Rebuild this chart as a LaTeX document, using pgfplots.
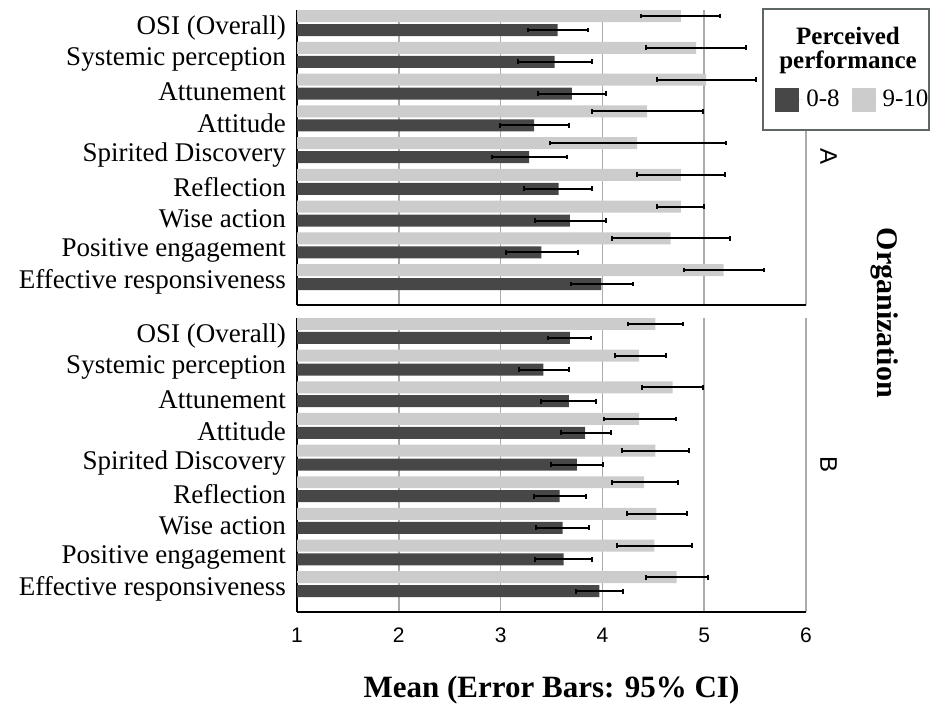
\documentclass[border=0pt]{standalone}
\usepackage{pgfplots}
\pgfplotsset{compat=1.18}
\usepackage{pgfplotstable}
\usepackage{fontspec}
\setmainfont{Liberation Serif}
\newfontfamily\arialfont{Liberation Sans}
\definecolor{cdark}{HTML}{474747}
\definecolor{clight}{HTML}{CCCCCC}
\definecolor{cgrid}{HTML}{ABABAB}
\definecolor{cframe}{HTML}{5E6666}

% Organization A, perceived performance 0-8 (y = row + 0.22)
\pgfplotstableread{
y m lo hi
1.22 3.56 3.27 3.86
2.22 3.53 3.17 3.90
3.22 3.70 3.37 4.04
4.22 3.33 2.99 3.67
5.22 3.28 2.92 3.65
6.22 3.57 3.23 3.90
7.22 3.68 3.34 4.04
8.22 3.40 3.05 3.76
9.22 3.99 3.69 4.30
}\tabAdark
% Organization A, 9-10 (y = row - 0.22)
\pgfplotstableread{
y m lo hi
0.78 4.77 4.38 5.16
1.78 4.92 4.43 5.41
2.78 5.02 4.54 5.51
3.78 4.44 3.90 4.99
4.78 4.34 3.49 5.21
5.78 4.77 4.34 5.20
6.78 4.77 4.54 5.00
7.78 4.67 4.09 5.25
8.78 5.19 4.80 5.59
}\tabAlight
% Organization B, 0-8
\pgfplotstableread{
y m lo hi
1.22 3.68 3.47 3.89
2.22 3.42 3.18 3.67
3.22 3.67 3.40 3.94
4.22 3.83 3.59 4.08
5.22 3.75 3.50 4.01
6.22 3.58 3.33 3.84
7.22 3.61 3.35 3.87
8.22 3.62 3.34 3.90
9.22 3.97 3.74 4.20
}\tabBdark
% Organization B, 9-10
\pgfplotstableread{
y m lo hi
0.78 4.52 4.25 4.79
1.78 4.36 4.12 4.62
2.78 4.69 4.39 4.99
3.78 4.36 4.02 4.72
4.78 4.52 4.19 4.85
5.78 4.41 4.09 4.74
6.78 4.53 4.24 4.83
7.78 4.51 4.14 4.88
8.78 4.73 4.43 5.04
}\tabBlight

\pgfplotsset{
  panel/.style={
    scale only axis, width=254.5pt,
    xmin=1, xmax=6, ymin=0.59, ymax=9.88, y dir=reverse,
    xtick={1,2,3,4,5,6}, ytick={1,2,3,4,5,6,7,8,9},
    yticklabels={OSI (Overall),Systemic perception,Attunement,Attitude,Spirited Discovery,Reflection,Wise action,Positive engagement,Effective responsiveness},
    xmajorgrids, grid style={cgrid, line width=0.8pt},
    axis x line*=bottom, axis y line*=left,
    axis line style={black, line width=1pt, -},
    major tick length=0pt,
    y tick label style={font=\fontsize{13.5}{15}\selectfont, xshift=-2pt, yshift=-2.5pt},
    x tick label style={font=\arialfont\fontsize{10.5}{12}\selectfont, yshift=-4.5pt},
    /pgf/number format/assume math mode=true,
  },
  barstyle/.style={xbar, bar width=0.378, bar shift=0pt, draw=none,
    error bars/x dir=both, error bars/x explicit,
    error bars/error mark=|,
    error bars/error bar style={line width=1pt, black},
    error bars/error mark options={mark size=1.2pt, line width=1pt, black}},
}

\begin{document}
\begin{tikzpicture}
\useasboundingbox (0,0) rectangle (465pt,355pt);

% Panel A
\begin{axis}[panel, height=147.5pt, at={(148.5pt,202.5pt)}, anchor=south west, xticklabels={}]
\addplot[barstyle, fill=cdark] table[x=m, y=y, x error plus expr=\thisrow{hi}-\thisrow{m}, x error minus expr=\thisrow{m}-\thisrow{lo}] {\tabAdark};
\addplot[barstyle, fill=clight] table[x=m, y=y, x error plus expr=\thisrow{hi}-\thisrow{m}, x error minus expr=\thisrow{m}-\thisrow{lo}] {\tabAlight};
\end{axis}

% legend frame and title
\draw[cframe, line width=1pt, fill=white] (381.3pt,290pt) rectangle (464.4pt,350.4pt);
\node[font=\bfseries\fontsize{12.5}{12}\selectfont, align=center] at (424pt,329.8pt) {Perceived\\performance};

% Panel B
\begin{axis}[panel, height=147pt, at={(148.5pt,49pt)}, anchor=south west,
  xlabel={Mean (Error Bars: 95\% CI)},
  xlabel style={font=\bfseries\fontsize{15.5}{18}\selectfont, at={(axis description cs:0.5,-0.267)}, anchor=center},
  legend columns=2,
  legend style={at={(axis description cs:0.939,1.7415)}, anchor=west, draw=none, fill=none, inner sep=0pt,
    font=\fontsize{12.5}{15}\selectfont,
    /tikz/every even column/.append style={column sep=4pt}},
]
\addplot[barstyle, fill=cdark, legend image code/.code={\fill[cdark] (0pt,-6pt) rectangle (12pt,6pt); \path (0pt,0pt) -- (13.5pt,0pt);}] table[x=m, y=y, x error plus expr=\thisrow{hi}-\thisrow{m}, x error minus expr=\thisrow{m}-\thisrow{lo}] {\tabBdark};
\addlegendentry{0-8}
\addplot[barstyle, fill=clight, legend image code/.code={\fill[clight] (0pt,-6pt) rectangle (12pt,6pt); \path (0pt,0pt) -- (13.5pt,0pt);}] table[x=m, y=y, x error plus expr=\thisrow{hi}-\thisrow{m}, x error minus expr=\thisrow{m}-\thisrow{lo}] {\tabBlight};
\addlegendentry{9-10}
\end{axis}

% strip labels
\node[rotate=-90, font=\arialfont\fontsize{12}{14}\selectfont] at (414.3pt,276.5pt) {A};
\node[rotate=-90, font=\arialfont\fontsize{12}{14}\selectfont] at (414.3pt,122.5pt) {B};
\node[rotate=-90, font=\bfseries\fontsize{15}{18}\selectfont] at (442.5pt,198.5pt) {Organization};
\end{tikzpicture}
\end{document}
